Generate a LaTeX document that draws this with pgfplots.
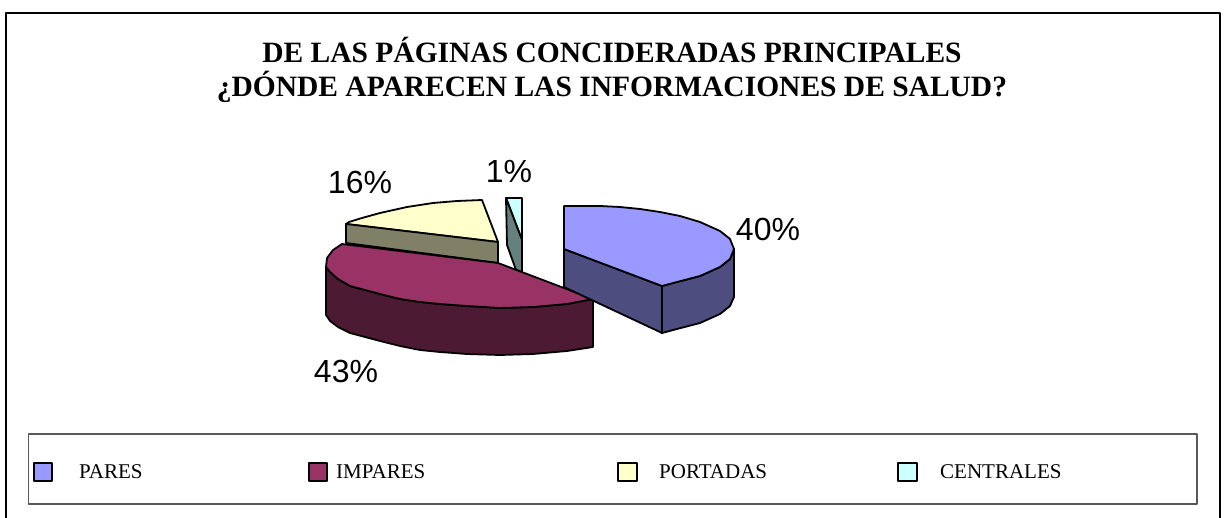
\documentclass[border=0pt]{standalone}
\usepackage{pgfplots}
\pgfplotsset{compat=1.18}
\usepackage{fontspec}
\setmainfont{Liberation Serif}
\newfontfamily\arialf{Liberation Sans}
\definecolor{pa}{HTML}{9999FF}\definecolor{pad}{HTML}{4D4D80}
\definecolor{im}{HTML}{993366}\definecolor{imd}{HTML}{4D1A33}
\definecolor{po}{HTML}{FFFFCC}\definecolor{pod}{HTML}{808066}
\definecolor{ce}{HTML}{CCFFFF}\definecolor{ced}{HTML}{668080}
\begin{document}
\begin{tikzpicture}
\useasboundingbox (0,0) rectangle (1226pt,518pt);
\begin{axis}[at={(0,0)},anchor=south west,width=1226pt,height=518pt,scale only axis,
  xmin=0,xmax=1226,ymin=0,ymax=518,y dir=reverse,axis lines=none,clip=false,
  every axis plot/.append style={draw=black,line width=1.8pt,line join=round,mark=none}]
% frame
\addplot[draw=black,line width=2pt,fill=white] coordinates {(5.5,13.5)(1220,13.5)(1220,524)(5.5,524)} --cycle;
% legend box
\addplot[draw=black!65,line width=1.3pt] coordinates {(28.5,434)(1197,434)(1197,504)(28.5,504)} --cycle;
\addplot[fill=pa] coordinates {(34,463)(52,463)(52,481)(34,481)} --cycle;
\addplot[fill=im] coordinates {(309,463)(327,463)(327,481)(309,481)} --cycle;
\addplot[fill=po] coordinates {(618,463)(637,463)(637,481)(618,481)} --cycle;
\addplot[fill=ce] coordinates {(898,463)(917,463)(917,481)(898,481)} --cycle;
% centrales
\addplot[fill=ce] coordinates {(506,198)(522,198)(522,240)} --cycle;
\addplot[fill=ced] coordinates {(506,198)(522,240)(522,272)(516,270)(507,245)} --cycle;
% portadas
\addplot[fill=po] coordinates {(498,242)(482,200)(457,201)(433,203)(407,207)(380,213)(362,218)(349,222)(346,224)} --cycle;
\addplot[fill=pod] coordinates {(346,224)(498,242)(498,263)(346,243)} --cycle;
% impares side
\addplot[fill=imd] coordinates {(326,267)(326,315)(330,321)(338,327)(350,333)(365,337)(380,341)(400,346)(420,350)(440,352)(467,354)(500,355)(533,354)(567,351)(593,347)(593,299)(567,304)(533,307)(500,308)(467,306)(440,304)(420,302)(400,299)(380,294)(365,290)(350,286)(338,279)(330,272)} --cycle;
% impares top
\addplot[fill=im] coordinates {(342,244)(498,263)(593,299)(567,304)(533,307)(500,308)(467,306)(440,304)(420,302)(400,299)(380,294)(365,290)(350,286)(338,279)(330,272)(326,267)(327,258)(333,250)} --cycle;
% pares
\addplot[fill=pad] coordinates {(564,249)(662,286)(662,333)(564,287)} --cycle;
\addplot[fill=pad] coordinates {(662,286)(677,282)(700,276)(720,267)(730,259)(734,249)(734,297)(730,306)(720,314)(700,323)(677,329)(662,333)} --cycle;
\addplot[fill=pa] coordinates {(564,206)(564,249)(662,286)(677,282)(700,276)(720,267)(730,259)(734,249)(730,239)(720,231)(700,222)(680,216)(660,212)(640,209)(620,207)(600,206)} --cycle;
% texts
\node[align=center,font=\bfseries\fontsize{29.5}{33.5}\selectfont] at (axis cs:612,70) {DE LAS PÁGINAS CONCIDERADAS PRINCIPALES\\¿DÓNDE APARECEN LAS INFORMACIONES DE SALUD?};
\node[font=\arialf\fontsize{32}{36}\selectfont] at (axis cs:360,182) {16\%};
\node[font=\arialf\fontsize{32}{36}\selectfont] at (axis cs:509,171) {1\%};
\node[font=\arialf\fontsize{32}{36}\selectfont] at (axis cs:768,229) {40\%};
\node[font=\arialf\fontsize{32}{36}\selectfont] at (axis cs:346,371) {43\%};
\node[anchor=west,font=\fontsize{21}{24}\selectfont,inner sep=0pt] at (axis cs:79,472) {PARES};
\node[anchor=west,font=\fontsize{21}{24}\selectfont,inner sep=0pt] at (axis cs:336,472) {IMPARES};
\node[anchor=west,font=\fontsize{21}{24}\selectfont,inner sep=0pt] at (axis cs:659,472) {PORTADAS};
\node[anchor=west,font=\fontsize{21}{24}\selectfont,inner sep=0pt] at (axis cs:940,472) {CENTRALES};
\end{axis}
\end{tikzpicture}
\end{document}
